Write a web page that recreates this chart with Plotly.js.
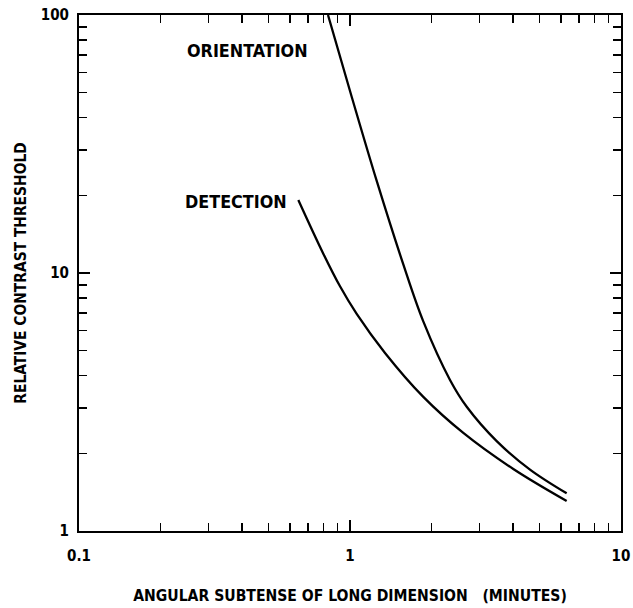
<!DOCTYPE html>
<html>
<head>
<meta charset="utf-8">
<script src="https://cdn.plot.ly/plotly-3.0.1.min.js"></script>
<style>html,body{margin:0;padding:0;background:#fff}#chart{width:633px;height:608px}</style>
</head>
<body>
<div id="chart"></div>
<script>
// Data (log-log axes)
const orientationX = [0.8295, 1.017, 1.254, 1.573, 1.864, 2.339, 2.696, 3.478, 4.615, 6.302];
const orientationY = [100, 47.8, 22.8, 10.8, 6.49, 3.85, 3.03, 2.23, 1.73, 1.40];
const detectionX = [0.6446, 0.7971, 0.9186, 1.0585, 1.3465, 1.8643, 2.619, 4.005, 6.302];
const detectionY = [19.19, 11.88, 8.88, 6.94, 4.90, 3.31, 2.40, 1.739, 1.307];
const xTickVals = [0.1, 1, 10];
const xTickText = ["0.1", "1", "10"];
const yTickVals = [1, 10, 100];
const yTickText = ["1", "10", "100"];
const seriesLabels = ["ORIENTATION", "DETECTION"];
const labelX = [0.42, 0.378];
const labelY = [73, 19.0];

function minorVals(lo, hi) {
  const out = [];
  for (let d = lo; d < hi; d *= 10) for (let k = 2; k <= 9; k++) out.push(d * k);
  return out;
}

const FONT = "DejaVu Sans Condensed, sans-serif";
const lineStyle = {color: "#000", width: 2.3, shape: "spline", smoothing: 1};

const traces = [
  {x: orientationX, y: orientationY, mode: "lines", line: lineStyle, name: seriesLabels[0], cliponaxis: true},
  {x: detectionX, y: detectionY, mode: "lines", line: lineStyle, name: seriesLabels[1], cliponaxis: true}
];

const axisCommon = {
  type: "log",
  showgrid: false,
  zeroline: false,
  showline: true,
  linecolor: "#000",
  linewidth: 2,
  mirror: "ticks",
  ticks: "inside",
  ticklen: 11,
  tickwidth: 1.6,
  tickcolor: "#000",
  tickmode: "array",
  tickfont: {family: FONT, size: 15, color: "#000", weight: "bold"}
};

const layout = {
  width: 633, height: 608,
  margin: {l: 79, r: 12, t: 15, b: 77},
  paper_bgcolor: "#fff", plot_bgcolor: "#fff",
  showlegend: false,
  xaxis: Object.assign({}, axisCommon, {
    range: [-1, 1],
    tickvals: xTickVals, ticktext: xTickText,
    ticklabelstandoff: 10,
    minor: {ticks: "inside", ticklen: 8, tickwidth: 1.4, tickcolor: "#000", tickmode: "array", tickvals: minorVals(0.1, 10)},
    title: {text: "ANGULAR SUBTENSE OF LONG DIMENSION&nbsp;&nbsp;&nbsp;(MINUTES)", font: {family: FONT, size: 15.6, color: "#000", weight: "bold"}, standoff: 26}
  }),
  yaxis: Object.assign({}, axisCommon, {
    range: [0, 2],
    tickvals: yTickVals, ticktext: yTickText,
    ticklabelstandoff: 5,
    minor: {ticks: "inside", ticklen: 8, tickwidth: 1.4, tickcolor: "#000", tickmode: "array", tickvals: minorVals(1, 100)},
    title: {text: "RELATIVE CONTRAST THRESHOLD", font: {family: FONT, size: 15.4, color: "#000", weight: "bold"}, standoff: 10}
  }),
  annotations: seriesLabels.map((t, i) => ({
    x: Math.log10(labelX[i]), y: Math.log10(labelY[i]), xref: "x", yref: "y",
    text: t, showarrow: false,
    font: {family: FONT, size: 17.8, color: "#000", weight: "bold"}
  }))
};

Plotly.newPlot("chart", traces, layout, {displayModeBar: false, staticPlot: true});
</script>
</body>
</html>
